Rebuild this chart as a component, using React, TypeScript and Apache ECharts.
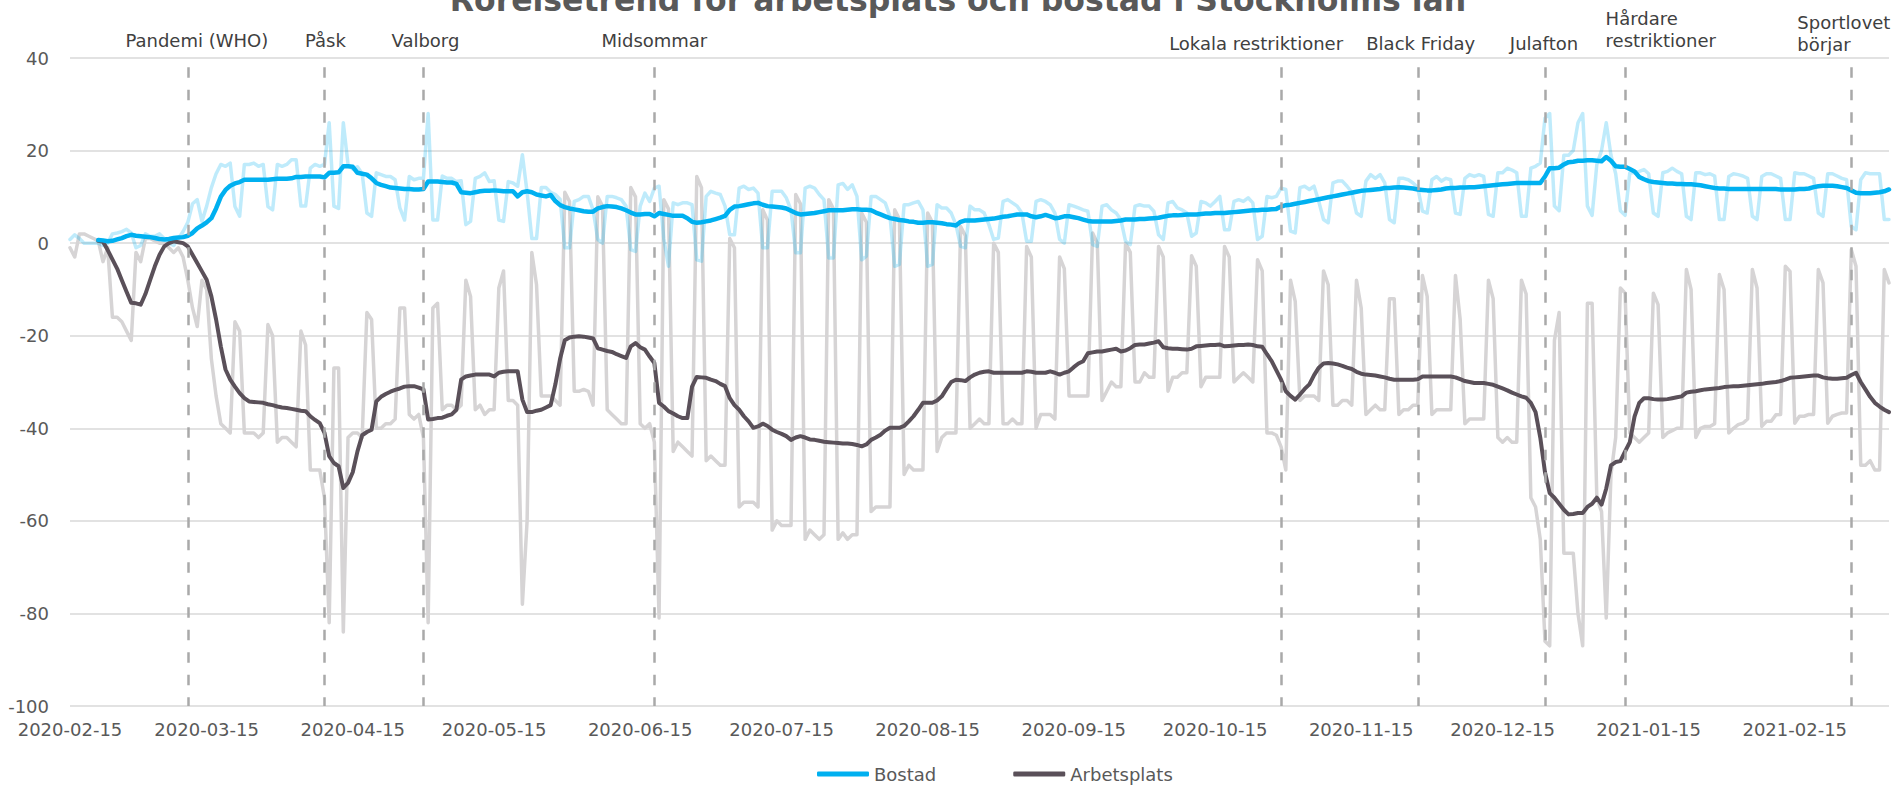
import React, { useEffect, useRef } from "react";
import * as echarts from "echarts";

// ---------- DATA ----------
const TITLE = "Rörelsetrend för arbetsplats och bostad i Stockholms län";
const START_DATE = "2020-02-15";
const DAY_COUNT = 387;
const dates: string[] = Array.from({ length: DAY_COUNT }, (_, i) =>
  new Date(Date.parse(START_DATE + "T00:00:00Z") + i * 86400000).toISOString().slice(0, 10)
);

// Arbetsplats, daily (grey)  – one row per week (Sat..Fri)
const arbetsplatsDaily: number[] = [
  -1, -3, 2, 2, 1.5, 1, 0.5,
  -4, -1, -16, -16, -17, -19, -21,
  -2, -4, 1, 1, 0.5, 0, 0,
  -1, -2, -1, -3, -8, -14, -18,
  -8, -10, -25, -33, -39, -40, -41,
  -17, -19, -41, -41, -41, -42, -41,
  -17.6, -20, -43, -42, -42, -43, -44,
  -19, -22, -49, -49, -49, -55, -82,
  -27, -27, -84, -42, -41, -41, -42,
  -15, -16.5, -40, -40, -39, -39, -38,
  -14, -14, -37, -38, -37, -42, -82,
  -14, -13, -36, -35, -35, -36, -35,
  -8, -11.5, -36, -35, -37, -36, -36,
  -9.7, -6, -34, -34, -35, -78, -60,
  -2, -9, -33, -33, -33, -34, -35,
  11, 9, -32, -32, -31.6, -32, -35,
  10, 8, -36, -37, -38, -39, -39,
  12, 10, -39, -40, -39, -43, -81,
  9.4, 7.4, -45, -43, -44, -45, -46,
  14.4, 12, -47, -46, -47, -48, -48,
  1, -1, -57, -56, -56, -56, -57,
  7.2, 5, -62, -60, -61, -61, -61,
  10.5, 8.5, -64, -62, -63, -64, -63,
  9.4, 7.4, -64, -62.6, -64, -63, -63,
  6.5, 4.5, -58, -57, -57, -57, -57,
  7.2, 5.2, -50, -48, -49, -49, -49,
  6.5, 4.5, -45, -42, -41, -41, -41,
  3.6, 1.6, -40, -39, -38, -39, -39,
  0, -2, -39, -39, -38, -39, -39,
  -0.7, -3, -40, -37, -37, -37, -38,
  -3, -5.5, -33, -33, -33, -33, -33,
  2.2, 0, -34, -32, -30, -31, -31,
  0, -2, -30, -30, -28, -29, -29,
  -0.7, -3, -32, -29, -29, -28, -28,
  -2.7, -5, -31, -29, -29, -29, -29,
  -0.7, -3, -30, -29, -28, -29, -30,
  -3.6, -6, -41, -41, -41.5, -44, -49,
  -8, -12.6, -34, -33, -33, -33, -34,
  -6, -9, -35, -35, -34, -34, -35,
  -8, -14, -37, -36, -35, -36, -36,
  -12, -12, -37, -36, -36, -35, -35,
  -7, -11.5, -37, -36, -36, -36, -36,
  -7, -16.5, -39, -38, -38, -38, -38,
  -8, -12, -42, -43, -42, -43, -43,
  -8, -11, -55, -57, -64, -86, -87,
  -21, -15, -67, -67, -67, -80, -87,
  -13, -13, -55, -58, -81, -50, -42,
  -9.7, -10.8, -41, -42, -43, -42, -41,
  -10.8, -13.3, -42, -41, -40.5, -40, -40,
  -5.7, -10, -42, -40, -39.6, -39.6, -39,
  -6.8, -10, -41, -40, -39.2, -38.9, -38,
  -5.7, -9.7, -39.6, -38.5, -38.5, -37.1, -37,
  -5, -6.1, -38.9, -37.4, -37.4, -37, -37,
  -5.7, -8.6, -38.9, -37.4, -37, -36.7, -36.7,
  -1.4, -5, -48, -48, -47, -49, -49,
  -5.7, -8.6,
];

// Bostad, daily (light blue)
const bostadDaily: number[] = [
  0.8, 1.8, 1, 0, 0, 0, 0,
  -0.5, 0, 2, 2.2, 2.5, 3, 2.2,
  -1, -0.5, 2, 1.5, 1.5, 2, 1,
  0, -0.5, 1, 2.5, 4.5, 8.5, 9.4,
  4.7, 8, 12, 15, 17, 16.6, 17.3,
  7.9, 5.8, 17, 17, 17.3, 16.6, 17,
  7.9, 7.2, 17, 16.6, 17, 18, 18,
  8, 8, 16.2, 17, 16.6, 17, 26,
  8, 7.5, 26, 17, 16, 16.5, 15,
  6.5, 5.8, 15.2, 14.8, 14.4, 14.4, 13.7,
  7.6, 5, 14.4, 13.7, 14, 14, 28,
  5, 5, 14.5, 14, 14, 13.3, 13.5,
  4, 4.7, 14, 14.4, 15.2, 13.3, 13.5,
  5, 4.7, 13.3, 13, 12.3, 19.1, 11,
  1, 1, 12, 12, 11, 10.5, 9.5,
  -1, -1, 9, 9.4, 10.1, 10.1, 7.2,
  0.8, 0, 10.1, 10.1, 9.8, 9.4, 8,
  -1.4, -1.8, 8, 10.8, 9, 11.9, 12.3,
  1, -5, 8.7, 8.3, 8.7, 8.7, 8.3,
  -3.6, -3.9, 10.1, 11.2, 10.8, 10.5, 8,
  1.8, 1.8, 11.9, 12.3, 11.6, 11.9, 10.8,
  -1, -1, 11.2, 11.2, 11.2, 9.8, 7.2,
  -2.1, -2.1, 11.9, 12.3, 11.9, 10.5, 9.4,
  -3.2, -3.2, 12.6, 12.9, 11.6, 12.6, 10.1,
  -3.6, -2.8, 10.1, 10.1, 9.4, 8.7, 5.8,
  -5, -4.6, 8.3, 8.3, 8.7, 9, 7.2,
  -5, -4.6, 8.3, 7.6, 7.6, 6.5, 4,
  -0.7, -1, 8, 7.2, 7.2, 6.5, 4,
  0.8, 1.1, 9, 9.4, 8.7, 8, 6.5,
  0.4, 0.4, 9, 9.4, 9, 8.3, 6.5,
  0.8, 0, 8.3, 8, 7.6, 7.2, 6.9,
  -0.3, -0.7, 8, 8.3, 7.2, 6.5, 5.1,
  0.4, -0.3, 8, 8.3, 8, 8, 6.9,
  1.8, 0.8, 8.7, 9, 7.6, 7.2, 6.5,
  1.5, 2.2, 9, 8.7, 8, 9, 10.1,
  2.9, 2.9, 9, 9.4, 9, 9.8, 8.7,
  0.8, 1.5, 10.1, 9.8, 10.1, 11.9, 11.6,
  2.6, 2.2, 12, 12.3, 11.6, 12.3, 9,
  5.1, 4.4, 13, 13.4, 13.4, 12.3, 11,
  6.5, 5.8, 13.4, 14.8, 14, 14.8, 13,
  5.1, 4.4, 14, 14, 13.7, 13, 12,
  6.9, 6.5, 13.7, 14.4, 13.4, 14, 13.7,
  6.5, 6.2, 14, 14.8, 14.4, 14.8, 14.4,
  6.2, 5.8, 15.2, 15.2, 16.2, 15.8, 15.2,
  5.8, 5.8, 16.2, 16.6, 17.3, 27, 28,
  8, 7, 19, 19, 20, 26, 28,
  8, 6, 17, 20, 26, 19, 15,
  7, 6, 15.2, 15.2, 15.5, 15.9, 15,
  6.5, 5.8, 15.2, 15.5, 16.2, 15.5, 15,
  5.8, 5.1, 15.2, 15.2, 14.8, 15, 14.5,
  5.1, 5.1, 14.4, 15, 14.8, 14.5, 14,
  5.8, 5.1, 14.4, 15, 15, 14.5, 14,
  5.1, 5.1, 15.2, 15, 15, 14.5, 14,
  6.5, 5.8, 15, 15, 14.5, 14, 13.7,
  3.6, 2.9, 13.7, 15.2, 15, 15, 15,
  5.1, 5.1,
];

// Arbetsplats, 7-day average (dark)
const arbetsplatsAvg: (number | null)[] = [
  null, null, null, null, null, null, 0.5,
  0.3, -1.5, -3.5, -5.5, -8, -10.5, -12.9,
  -13, -13.3, -11, -8, -5, -2.5, -0.7,
  0, 0.4, 0.2, 0, -0.7, -2.5, -4.3,
  -6.1, -7.9, -11.5, -16.5, -22.3, -27.3, -29.5,
  -31, -32.4, -33.5, -34.2, -34.3, -34.4, -34.5,
  -34.8, -35, -35.3, -35.5, -35.6, -35.8, -36,
  -36.2, -36.3, -37.4, -38.2, -38.9, -41, -46,
  -47.5, -48.2, -52.9, -51.8, -49.5, -45, -41.5,
  -40.8, -40.3, -34.2, -33.2, -32.6, -32.1, -31.7,
  -31.4, -31, -30.9, -30.9, -31.2, -31.6, -38.1,
  -38, -37.8, -37.7, -37.3, -37, -36, -29.5,
  -28.8, -28.6, -28.4, -28.4, -28.4, -28.4, -28.8,
  -28, -27.8, -27.7, -27.7, -27.7, -33.8, -36.5,
  -36.5, -36.2, -36, -35.5, -35, -30.5, -25,
  -21, -20.4, -20.2, -20.1, -20.2, -20.4, -20.6,
  -22.7, -23, -23.3, -23.5, -24, -24.4, -24.8,
  -22.3, -21.6, -22.5, -23, -24.5, -25.9, -34.5,
  -35.3, -36.3, -36.8, -37.4, -37.8, -37.8, -31,
  -28.9, -29, -29.1, -29.5, -29.8, -30.4, -30.9,
  -33.5, -35, -36, -37.4, -38.5, -39.9, -39.6,
  -39, -39.5, -40.3, -40.8, -41.2, -41.7, -42.5,
  -42, -41.7, -42, -42.4, -42.5, -42.7, -42.9,
  -43, -43.1, -43.2, -43.3, -43.3, -43.4, -43.6,
  -43.9, -43.5, -42.5, -42, -41.4, -40.5, -39.9,
  -39.9, -39.9, -39.5, -38.5, -37.4, -36, -34.5,
  -34.5, -34.5, -34, -33.1, -31.5, -30, -29.5,
  -29.6, -29.8, -29, -28.4, -28, -27.8, -27.7,
  -28, -28, -28, -28, -28, -28, -28,
  -27.7, -27.8, -28, -28, -28, -27.7, -28,
  -28.4, -28, -27.7, -26.8, -26, -25.5, -23.8,
  -23.6, -23.4, -23.4, -23.2, -23, -22.8, -23.4,
  -23.2, -22.7, -22, -21.9, -21.9, -21.7, -21.5,
  -21.2, -22.5, -22.7, -22.8, -22.8, -22.9, -23,
  -22.8, -22.3, -22.2, -22.1, -22, -22, -21.9,
  -22.3, -22.2, -22.1, -22, -22, -21.9, -22,
  -22.3, -22.4, -24, -25.5, -27.5, -29.5, -32,
  -33, -33.8, -32.7, -31.5, -30.5, -28.5, -26.9,
  -26, -25.9, -26, -26.2, -26.5, -26.9, -27.2,
  -27.8, -28.2, -28.4, -28.5, -28.6, -28.8, -29,
  -29.3, -29.5, -29.5, -29.5, -29.5, -29.5, -29.4,
  -28.8, -28.8, -28.8, -28.8, -28.8, -28.8, -28.8,
  -29, -29.4, -29.8, -30, -30.2, -30.2, -30.2,
  -30.4, -30.6, -31, -31.4, -31.8, -32.3, -32.7,
  -33.1, -33.4, -34.5, -36.5, -42, -49.5, -54,
  -55, -56.3, -57.6, -58.6, -58.5, -58.3, -58.3,
  -57, -56.3, -55, -56.5, -53, -48, -47.3,
  -47.1, -45, -43, -37.5, -34.5, -33.5, -33.5,
  -33.7, -33.8, -33.8, -33.7, -33.5, -33.3, -33.1,
  -32.3, -32.1, -32, -31.8, -31.6, -31.5, -31.4,
  -31.3, -31.1, -31, -30.9, -30.9, -30.8, -30.7,
  -30.6, -30.5, -30.4, -30.2, -30.1, -30, -29.8,
  -29.5, -29.1, -29, -28.9, -28.8, -28.7, -28.6,
  -28.6, -29, -29.2, -29.3, -29.3, -29.2, -29.1,
  -28.5, -28, -30, -31.6, -33.2, -34.5, -35.3,
  -36, -36.5,
];

// Bostad, 7-day average (blue)
const bostadAvg: (number | null)[] = [
  null, null, null, null, null, null, 0.7,
  0.6, 0.4, 0.5, 0.8, 1.1, 1.5, 1.8,
  1.6, 1.5, 1.4, 1.3, 1.1, 0.9, 0.8,
  0.9, 1.1, 1.2, 1.3, 1.6, 2.2, 3.2,
  3.8, 4.5, 5.4, 7.5, 10, 11.5, 12.4,
  12.9, 13.2, 13.7, 13.7, 13.7, 13.7, 13.7,
  13.7, 13.8, 13.9, 13.9, 13.9, 14, 14.3,
  14.3, 14.4, 14.4, 14.4, 14.4, 14.2, 15.2,
  15.2, 15.3, 16.6, 16.6, 16.5, 15.2, 15,
  14.8, 14, 13, 12.6, 12.3, 12, 11.9,
  11.8, 11.7, 11.7, 11.6, 11.6, 11.7, 13.3,
  13.3, 13.3, 13.2, 13.1, 13.1, 12.8, 11,
  10.9, 10.8, 11, 11.2, 11.3, 11.3, 11.4,
  11.3, 11.2, 11.2, 11.2, 10.1, 11, 11.2,
  11, 10.5, 10.3, 10.1, 10.4, 9.1, 8.2,
  7.8, 7.5, 7.3, 7.1, 6.9, 6.8, 6.8,
  7.5, 7.8, 8, 7.9, 7.8, 7.5, 7.1,
  6.6, 6.2, 6.2, 6.3, 6.3, 5.8, 6.5,
  6.3, 6.1, 5.9, 5.9, 5.9, 5.4, 4.6,
  4.4, 4.5, 4.7, 4.9, 5.2, 5.5, 5.9,
  7.2, 7.9, 8, 8.2, 8.4, 8.6, 8.7,
  8.3, 8, 7.9, 7.8, 7.7, 7.5, 7,
  6.5, 6.2, 6.3, 6.4, 6.5, 6.7, 6.9,
  7.1, 7.1, 7.1, 7.1, 7.2, 7.3, 7.3,
  7.2, 7.2, 7.1, 6.6, 6.2, 5.8, 5.4,
  5.2, 5, 4.9, 4.7, 4.6, 4.4, 4.4,
  4.5, 4.5, 4.4, 4.3, 4.1, 4, 3.8,
  4.6, 4.9, 4.9, 4.9, 5, 5.1, 5.2,
  5.3, 5.5, 5.7, 5.8, 6, 6.2, 6.2,
  6.2, 5.8, 5.6, 5.8, 6.1, 5.8, 5.4,
  5.5, 5.8, 5.8, 5.6, 5.4, 5.1, 4.8,
  4.7, 4.7, 4.7, 4.7, 4.7, 4.8, 4.9,
  5.1, 5.1, 5.1, 5.2, 5.2, 5.3, 5.4,
  5.5, 5.7, 5.9, 6, 6, 6.1, 6.2,
  6.2, 6.2, 6.3, 6.4, 6.4, 6.5, 6.5,
  6.5, 6.6, 6.7, 6.8, 6.9, 7, 7.1,
  7.1, 7.2, 7.2, 7.3, 7.4, 7.9, 8.2,
  8.3, 8.5, 8.7, 8.9, 9.1, 9.3, 9.5,
  9.7, 9.9, 10.1, 10.3, 10.5, 10.7, 10.9,
  11.1, 11.3, 11.4, 11.5, 11.6, 11.7, 11.9,
  11.9, 12, 12.1, 12, 11.9, 11.8, 11.6,
  11.5, 11.4, 11.4, 11.5, 11.6, 11.8, 11.9,
  11.9, 12, 12, 12.1, 12.1, 12.2, 12.3,
  12.4, 12.5, 12.6, 12.7, 12.8, 12.9, 13,
  13, 13, 13, 13, 13, 14.4, 16.2,
  16.2, 16.3, 17, 17.5, 17.6, 17.8, 17.8,
  17.9, 17.9, 17.8, 17.7, 18.6, 17.8, 16.6,
  16.5, 16.5, 16, 15.5, 14.3, 13.8, 13.4,
  13.2, 13.1, 13, 12.9, 12.9, 12.8, 12.8,
  12.7, 12.7, 12.6, 12.5, 12.3, 12.1, 11.9,
  11.8, 11.8, 11.7, 11.7, 11.7, 11.7, 11.7,
  11.7, 11.7, 11.7, 11.7, 11.7, 11.7, 11.6,
  11.6, 11.6, 11.6, 11.7, 11.7, 11.8, 12.1,
  12.3, 12.4, 12.4, 12.4, 12.3, 12.1, 11.9,
  11.4, 10.9, 10.8, 10.8, 10.8, 10.9, 11,
  11.2, 11.6,
];

const eventDates: string[] = [
  "2020-03-11", "2020-04-09", "2020-04-30", "2020-06-18", "2020-10-29",
  "2020-11-27", "2020-12-24", "2021-01-10", "2021-02-27",
];
const eventLabels: string[] = [
  "Pandemi (WHO)", "Påsk", "Valborg", "Midsommar", "Lokala restriktioner",
  "Black Friday", "Julafton", "Hårdare\nrestriktioner", "Sportlovet\nbörjar",
];

// ---------- LAYOUT / STYLE ----------
const FONT = "DejaVu Sans";
const eventLabelLayout = [
  { dx: 9, y: 40, align: "center" },
  { dx: 1, y: 40, align: "center" },
  { dx: 2, y: 40, align: "center" },
  { dx: 0, y: 40, align: "center" },
  { dx: -25, y: 43, align: "center" },
  { dx: 3, y: 43, align: "center" },
  { dx: -1, y: 43, align: "center" },
  { dx: -19.5, y: 29, align: "left" },
  { dx: -54, y: 33, align: "left" },
];

export default function App() {
  const ref = useRef<HTMLDivElement>(null);

  useEffect(() => {
    const el = ref.current;
    if (!el) return;
    const chart = echarts.init(el, null, { renderer: "svg" });

    const lineBase = { type: "line", symbol: "none", showSymbol: false, smooth: false, silent: true, emphasis: { disabled: true } };

    chart.setOption({
      animation: false,
      textStyle: { fontFamily: FONT },
      grid: { left: 70, right: 8, top: 58, bottom: 79, containLabel: false },
      legend: {
        data: ["Bostad", "Arbetsplats"],
        left: 817,
        top: 765,
        padding: 0,
        icon: "roundRect",
        itemWidth: 52,
        itemHeight: 5,
        itemGap: 77,
        textStyle: { fontSize: 18, color: "#595959", fontFamily: FONT },
        selectedMode: false,
      },
      xAxis: {
        type: "category",
        data: dates,
        boundaryGap: false,
        axisLine: { show: false },
        axisTick: { show: false },
        splitLine: { show: false },
        axisLabel: {
          interval: (_i: number, v: string) => v.endsWith("-15"),
          fontSize: 18,
          color: "#595959",
          margin: 14,
          fontFamily: FONT,
        },
      },
      yAxis: {
        type: "value",
        min: -100,
        max: 40,
        interval: 20,
        axisLine: { show: false },
        axisTick: { show: false },
        axisLabel: { fontSize: 18, color: "#595959", margin: 21, fontFamily: FONT },
        splitLine: { lineStyle: { color: "#d9d9d9", width: 1.5 } },
      },
      series: [
        {
          ...lineBase,
          name: "Arbetsplats (daglig)",
          data: arbetsplatsDaily,
          itemStyle: { color: "#d6d4d5" },
          lineStyle: { color: "#d6d4d5", width: 3.5, join: "round", cap: "round" },
          markLine: {
            silent: true,
            symbol: ["none", "none"],
            label: { show: false },
            emphasis: { disabled: true },
            lineStyle: { color: "#a9a9a9", width: 2.5, type: [10.5, 12] },
            data: eventDates.map((d) => [{ coord: [d, 38] }, { coord: [d, -100] }]),
          },
        },
        {
          ...lineBase,
          name: "Bostad (daglig)",
          data: bostadDaily,
          itemStyle: { color: "rgba(0,176,240,0.25)" },
          lineStyle: { color: "rgba(0,176,240,0.25)", width: 3.5, join: "round", cap: "round" },
        },
        {
          ...lineBase,
          name: "Arbetsplats",
          data: arbetsplatsAvg,
          itemStyle: { color: "#5a5059" },
          lineStyle: { color: "#5a5059", width: 4, join: "round", cap: "round" },
        },
        {
          ...lineBase,
          name: "Bostad",
          data: bostadAvg,
          itemStyle: { color: "#00b0f0" },
          lineStyle: { color: "#00b0f0", width: 4.5, join: "round", cap: "round" },
        },
      ],
    });

    const labelGraphics = eventDates.map((d, i) => {
      const lay = eventLabelLayout[i];
      const px = chart.convertToPixel({ xAxisIndex: 0 }, dates.indexOf(d)) as number;
      return {
        type: "text",
        x: px + lay.dx,
        y: lay.y,
        silent: true,
        style: {
          text: eventLabels[i],
          fill: "#404040",
          font: `18px "${FONT}"`,
          textAlign: lay.align,
          textVerticalAlign: "middle",
          align: lay.align,
          verticalAlign: "middle",
          lineHeight: 22,
        },
      };
    });

    chart.setOption({
      graphic: [
        {
          type: "text",
          x: 958,
          y: 0,
          silent: true,
          style: {
            text: TITLE,
            fill: "#595959",
            font: `bold 31.5px "${FONT}"`,
            textAlign: "center",
            textVerticalAlign: "middle",
            align: "center",
            verticalAlign: "middle",
          },
        },
        ...labelGraphics,
      ],
    });

    return () => chart.dispose();
  }, []);

  return (
    <div
      ref={ref}
      style={{ position: "absolute", left: 0, top: 0, width: 1897, height: 785 }}
    />
  );
}
